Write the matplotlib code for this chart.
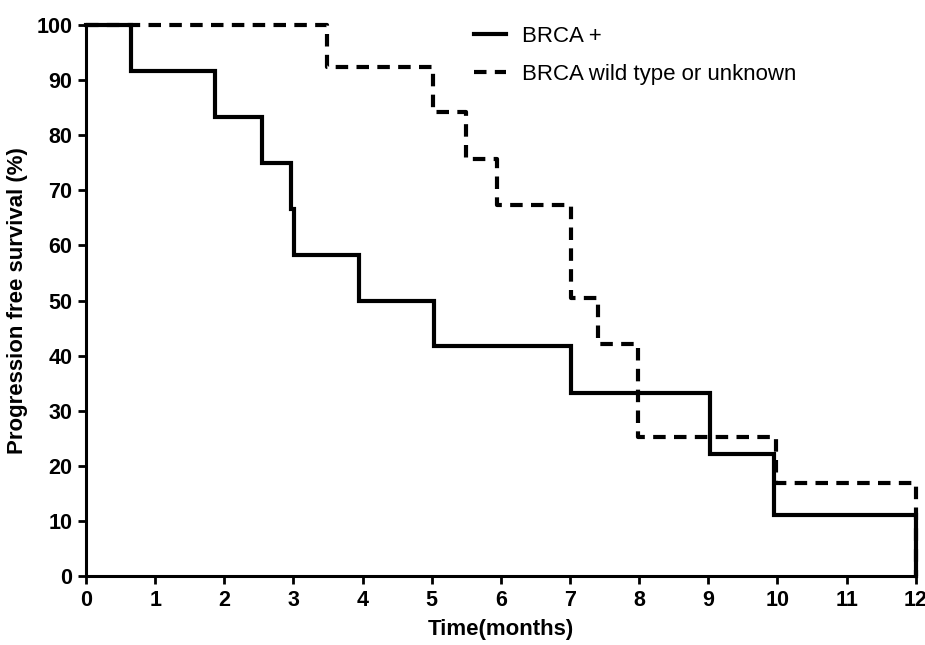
import matplotlib

matplotlib.use("Agg")
import matplotlib.pyplot as plt

# Kaplan-Meier step curves (time in months, survival in %)
brca_pos_time = [0, 0.65, 1.86, 2.54, 2.96, 3.01, 3.95, 5.03, 7.02, 9.03, 9.95, 12.0]
brca_pos_surv = [100, 91.7, 83.3, 75.0, 66.7, 58.3, 50.0, 41.7, 33.3, 22.2, 11.1, 0]

brca_wt_time = [0, 3.48, 5.02, 5.49, 5.94, 7.02, 7.41, 7.98, 9.98, 12.0]
brca_wt_surv = [100, 92.4, 84.2, 75.7, 67.3, 50.5, 42.1, 25.3, 16.9, 0]

x_ticks = list(range(0, 13))
y_ticks = list(range(0, 101, 10))

plt.rcParams["font.family"] = ["Liberation Sans", "DejaVu Sans"]

fig = plt.figure(figsize=(9.25, 6.45), dpi=100)
ax = fig.add_axes([0.093, 0.107, 0.897, 0.854])

ax.step(brca_pos_time, brca_pos_surv, where="post", color="black", linewidth=3.0,
        solid_joinstyle="miter", label="BRCA +", clip_on=False)
ax.step(brca_wt_time, brca_wt_surv, where="post", color="black", linewidth=3.0,
        linestyle=(0, (3, 2)), label="BRCA wild type or unknown", clip_on=False)

ax.set_xlim(0, 12)
ax.set_ylim(0, 100)
ax.set_xticks(x_ticks)
ax.set_yticks(y_ticks)
ax.spines["top"].set_visible(False)
ax.spines["right"].set_visible(False)
for side in ("left", "bottom"):
    ax.spines[side].set_linewidth(2.2)
ax.tick_params(width=2.0, length=6, direction="out", pad=4)
for lab in ax.get_xticklabels() + ax.get_yticklabels():
    lab.set_fontweight("bold")
    lab.set_fontsize(15.5)

ax.set_xlabel("Time(months)", fontsize=16, fontweight="bold", labelpad=6)
ax.set_ylabel("Progression free survival (%)", fontsize=16, fontweight="bold", labelpad=6)

ax.legend(loc="upper left", bbox_to_anchor=(0.443, 1.035), frameon=False, fontsize=16,
          handlelength=1.45, handletextpad=0.75, labelspacing=0.75)

fig.savefig("out.png", dpi=100)
plt.close(fig)
